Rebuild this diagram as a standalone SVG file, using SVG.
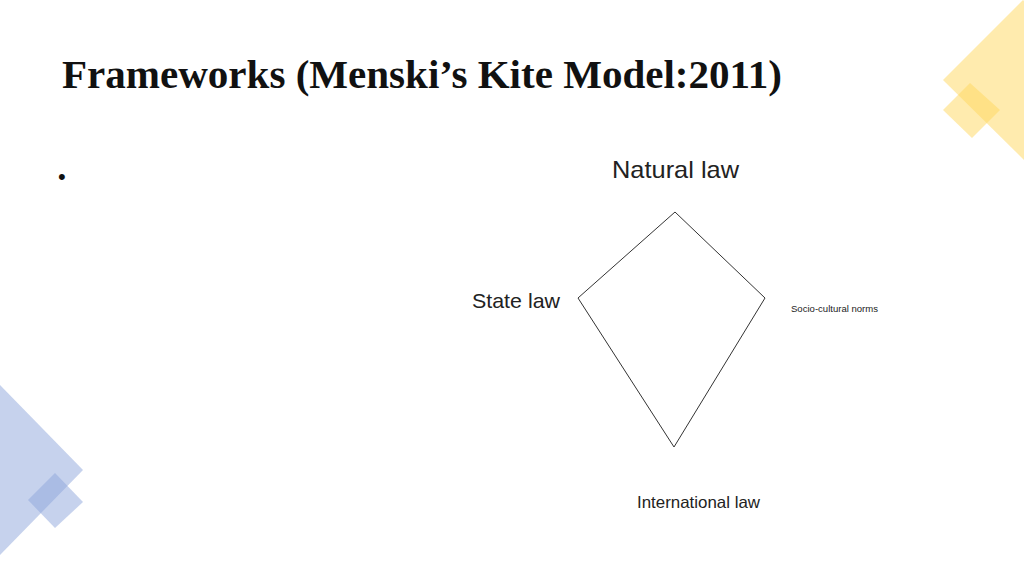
<svg xmlns="http://www.w3.org/2000/svg" width="1024" height="576" viewBox="0 0 1024 576">
<style>
.lbl{font-family:"Liberation Sans",Arial,sans-serif;fill:#222}
.kite{fill:none;stroke:#333;stroke-width:1}
.y{fill:#FFD75E;opacity:0.5}
.b{fill:#8EA6DC;opacity:0.5}
</style>
<rect width="1024" height="576" fill="#fff"/>
<g id="decor">
<polygon class="y" points="943,80 1023,0 1104,80 1024,160"/>
<polygon class="y" points="943,110 970,83 1000,110 972,138"/>
<polygon class="b" points="-85,470 0,385 83,470 0,555"/>
<polygon class="b" points="28,500 55,473 83,502 55,528"/>
</g>
<text x="62" y="88" font-family="'Liberation Serif',serif" font-weight="bold" font-size="40" textLength="720" lengthAdjust="spacingAndGlyphs" fill="#111">Frameworks (Menski’s Kite Model:2011)</text>
<text x="58" y="184" font-family="'Liberation Sans',sans-serif" font-size="22" fill="#111">•</text>
<g id="connectors">
<polygon class="kite" points="675,212 765,298 674,447 578,298"/>
</g>
<g id="natural"><text class="lbl" x="612" y="178" font-size="24" textLength="127" lengthAdjust="spacingAndGlyphs">Natural law</text></g>
<g id="state"><text class="lbl" x="472" y="308" font-size="21" textLength="88" lengthAdjust="spacingAndGlyphs">State law</text></g>
<g id="socio"><text class="lbl" x="791" y="312" font-size="9.5" textLength="87" lengthAdjust="spacingAndGlyphs">Socio-cultural norms</text></g>
<g id="international"><text class="lbl" x="637" y="508" font-size="16.5" textLength="123" lengthAdjust="spacingAndGlyphs">International law</text></g>
</svg>
